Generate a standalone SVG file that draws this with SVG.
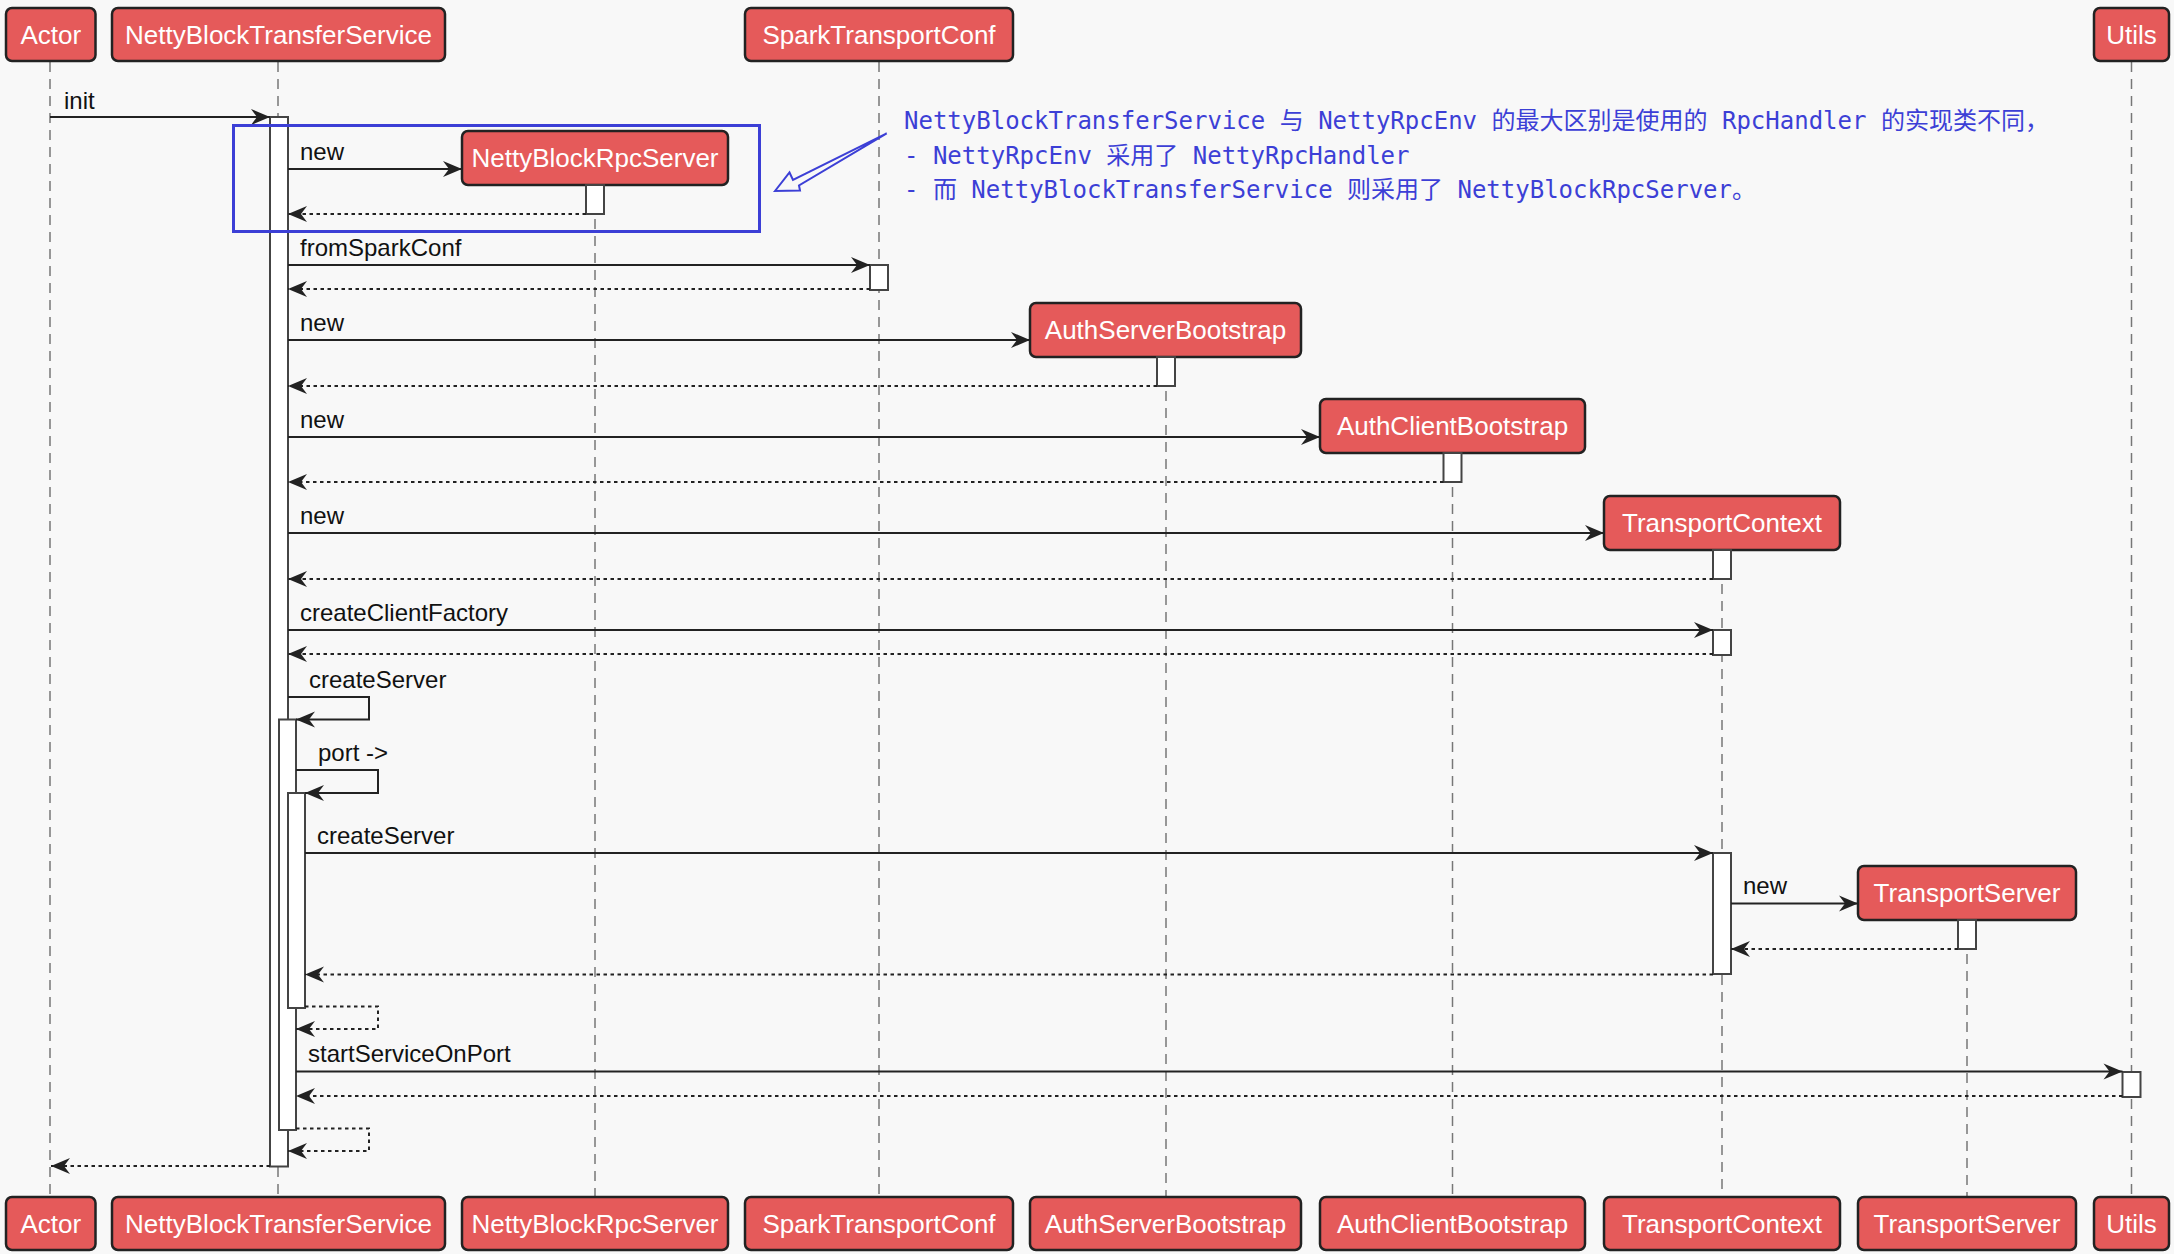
<svg xmlns="http://www.w3.org/2000/svg" width="2174" height="1254" viewBox="0 0 2174 1254">
<defs>
<marker id="ah" markerUnits="userSpaceOnUse" markerWidth="22" markerHeight="18" refX="19" refY="8" orient="auto" overflow="visible">
<path d="M0,0 L19,8 L0,16 L6,8 Z" fill="#222"/>
</marker>
<style>
.box{fill:#e55a5a;stroke:#222;stroke-width:2.5}
.bt{font-family:"Liberation Sans",Arial,sans-serif;font-size:26px;fill:#fff;text-anchor:middle}
.life{stroke:#777;stroke-width:1.5;stroke-dasharray:10,7;fill:none}
.act{fill:#fff;stroke:#444;stroke-width:2}
.msg{stroke:#222;stroke-width:2;fill:none;marker-end:url(#ah)}
.ret{stroke:#222;stroke-width:2;fill:none;stroke-dasharray:3.5,3.5;marker-end:url(#ah)}
.ml{font-family:"Liberation Sans",Arial,sans-serif;font-size:24px;fill:#111}
.nt{font-family:"DejaVu Sans Mono","Noto Sans CJK SC",monospace;font-size:24px;fill:#3c3fd6}
</style>
</defs>
<rect x="0" y="0" width="2174" height="1254" fill="#f8f8f8"/>

<g id="Actor">
<line class="life" x1="50" y1="62" x2="50" y2="1197"/>
<rect class="box" x="6" y="8" width="89.5" height="53" rx="6"/>
<text class="bt" x="50.75" y="44">Actor</text>
<rect class="box" x="6" y="1197" width="89.5" height="53" rx="6"/>
<text class="bt" x="50.75" y="1233">Actor</text>
</g>

<g id="NettyBlockTransferService">
<line class="life" x1="278" y1="62" x2="278" y2="1197"/>
<rect class="box" x="112" y="8" width="333" height="53" rx="6"/>
<text class="bt" x="278.5" y="44">NettyBlockTransferService</text>
<rect class="box" x="112" y="1197" width="333" height="53" rx="6"/>
<text class="bt" x="278.5" y="1233">NettyBlockTransferService</text>
<rect class="act" x="270" y="117" width="18" height="1049.5"/>
<rect class="act" x="279" y="719.5" width="17" height="410.5"/>
<rect class="act" x="288" y="793" width="17" height="215"/>
</g>

<g id="NettyBlockRpcServer">
<line class="life" x1="595" y1="185" x2="595" y2="1197"/>
<rect class="box" x="462" y="131" width="266" height="54" rx="6"/>
<text class="bt" x="595" y="167">NettyBlockRpcServer</text>
<rect class="box" x="462" y="1197" width="266" height="53" rx="6"/>
<text class="bt" x="595" y="1233">NettyBlockRpcServer</text>
<rect class="act" x="586" y="185" width="18" height="29"/>
</g>

<g id="SparkTransportConf">
<line class="life" x1="879" y1="62" x2="879" y2="1197"/>
<rect class="box" x="745" y="8" width="268" height="53" rx="6"/>
<text class="bt" x="879" y="44">SparkTransportConf</text>
<rect class="box" x="745" y="1197" width="268" height="53" rx="6"/>
<text class="bt" x="879" y="1233">SparkTransportConf</text>
<rect class="act" x="870" y="265" width="18" height="25"/>
</g>

<g id="AuthServerBootstrap">
<line class="life" x1="1166" y1="357" x2="1166" y2="1197"/>
<rect class="box" x="1030" y="303" width="271" height="54" rx="6"/>
<text class="bt" x="1165.5" y="339">AuthServerBootstrap</text>
<rect class="box" x="1030" y="1197" width="271" height="53" rx="6"/>
<text class="bt" x="1165.5" y="1233">AuthServerBootstrap</text>
<rect class="act" x="1157" y="357" width="18" height="29"/>
</g>

<g id="AuthClientBootstrap">
<line class="life" x1="1452.5" y1="453" x2="1452.5" y2="1197"/>
<rect class="box" x="1320" y="399" width="265" height="54" rx="6"/>
<text class="bt" x="1452.5" y="435">AuthClientBootstrap</text>
<rect class="box" x="1320" y="1197" width="265" height="53" rx="6"/>
<text class="bt" x="1452.5" y="1233">AuthClientBootstrap</text>
<rect class="act" x="1443.5" y="453" width="18" height="29"/>
</g>

<g id="TransportContext">
<line class="life" x1="1722" y1="550" x2="1722" y2="1197"/>
<rect class="box" x="1604" y="496" width="236" height="54" rx="6"/>
<text class="bt" x="1722" y="532">TransportContext</text>
<rect class="box" x="1604" y="1197" width="236" height="53" rx="6"/>
<text class="bt" x="1722" y="1233">TransportContext</text>
<rect class="act" x="1713" y="550" width="18" height="29"/>
<rect class="act" x="1713" y="630" width="18" height="25"/>
<rect class="act" x="1713" y="853" width="18" height="121"/>
</g>

<g id="TransportServer">
<line class="life" x1="1967" y1="920" x2="1967" y2="1197"/>
<rect class="box" x="1858" y="866" width="218" height="54" rx="6"/>
<text class="bt" x="1967" y="902">TransportServer</text>
<rect class="box" x="1858" y="1197" width="218" height="53" rx="6"/>
<text class="bt" x="1967" y="1233">TransportServer</text>
<rect class="act" x="1958" y="920" width="18" height="29"/>
</g>

<g id="Utils">
<line class="life" x1="2131.5" y1="62" x2="2131.5" y2="1197"/>
<rect class="box" x="2094" y="8" width="75" height="53" rx="6"/>
<text class="bt" x="2131.5" y="44">Utils</text>
<rect class="box" x="2094" y="1197" width="75" height="53" rx="6"/>
<text class="bt" x="2131.5" y="1233">Utils</text>
<rect class="act" x="2122.5" y="1072" width="18" height="25"/>
</g>

<g id="connectors">
<line class="msg" x1="50" y1="117" x2="270" y2="117"/>
<text class="ml" x="64" y="109">init</text>

<line class="msg" x1="288" y1="169" x2="462" y2="169"/>
<text class="ml" x="300" y="160">new</text>
<line class="ret" x1="586" y1="214" x2="288" y2="214"/>

<line class="msg" x1="288" y1="265" x2="870" y2="265"/>
<text class="ml" x="300" y="256">fromSparkConf</text>
<line class="ret" x1="870" y1="289" x2="288" y2="289"/>

<line class="msg" x1="288" y1="340" x2="1030" y2="340"/>
<text class="ml" x="300" y="331">new</text>
<line class="ret" x1="1157" y1="386" x2="288" y2="386"/>

<line class="msg" x1="288" y1="437" x2="1320" y2="437"/>
<text class="ml" x="300" y="428">new</text>
<line class="ret" x1="1443.5" y1="482" x2="288" y2="482"/>

<line class="msg" x1="288" y1="533" x2="1604" y2="533"/>
<text class="ml" x="300" y="524">new</text>
<line class="ret" x1="1713" y1="579" x2="288" y2="579"/>

<line class="msg" x1="288" y1="630" x2="1713" y2="630"/>
<text class="ml" x="300" y="621">createClientFactory</text>
<line class="ret" x1="1713" y1="654" x2="288" y2="654"/>

<polyline class="msg" points="288,697 369,697 369,719.5 296,719.5"/>
<text class="ml" x="309" y="688">createServer</text>

<polyline class="msg" points="296,770 378,770 378,793 305,793"/>
<text class="ml" x="318" y="761">port -&gt;</text>

<line class="msg" x1="305" y1="853" x2="1713" y2="853"/>
<text class="ml" x="317" y="844">createServer</text>

<line class="msg" x1="1731" y1="903.5" x2="1858" y2="903.5"/>
<text class="ml" x="1743" y="894">new</text>
<line class="ret" x1="1958" y1="949" x2="1731" y2="949"/>

<line class="ret" x1="1713" y1="974.5" x2="305" y2="974.5"/>

<polyline class="ret" points="305,1006.5 378,1006.5 378,1029 296,1029"/>

<line class="msg" x1="296" y1="1071.5" x2="2122.5" y2="1071.5"/>
<text class="ml" x="308" y="1062">startServiceOnPort</text>
<line class="ret" x1="2122.5" y1="1096" x2="296" y2="1096"/>

<polyline class="ret" points="296,1128.5 369,1128.5 369,1151 288,1151"/>

<line class="ret" x1="270" y1="1166" x2="51" y2="1166"/>
</g>

<g id="note">
<rect x="233.5" y="125.5" width="526" height="106" fill="none" stroke="#3c3fd6" stroke-width="3"/>
<path d="M775,191 L789.5,172.5 L793,180 L886.7,133.3 L799,185.5 L800,190.5 Z" fill="none" stroke="#3c3fd6" stroke-width="2" stroke-linejoin="miter"/>
<text class="nt" x="904" y="129">NettyBlockTransferService 与 NettyRpcEnv 的最大区别是使用的 RpcHandler 的实现类不同，</text>
<text class="nt" x="904" y="163.5">- NettyRpcEnv 采用了 NettyRpcHandler</text>
<text class="nt" x="904" y="198">- 而 NettyBlockTransferService 则采用了 NettyBlockRpcServer。</text>
</g>
</svg>
